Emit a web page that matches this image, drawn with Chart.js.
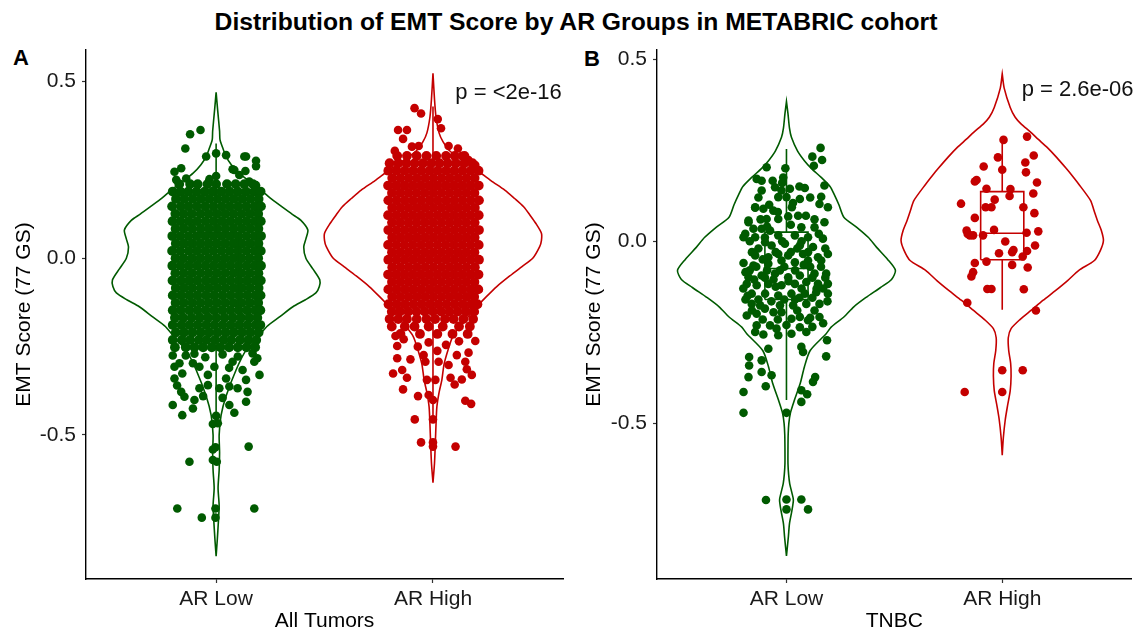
<!doctype html>
<html lang="en">
<head>
<meta charset="utf-8">
<title>Distribution of EMT Score by AR Groups in METABRIC cohort</title>
<script src="https://cdn.jsdelivr.net/npm/chart.js@4.4.1/dist/chart.umd.min.js"></script>
<style>
  body { margin: 0; background: #fff; font-family: "Liberation Sans", Arial, sans-serif; }
  #wrap { position: relative; width: 1136px; height: 632px; overflow: hidden; }
  #title { position: absolute; left: 8px; top: 8px; width: 1136px; text-align: center;
           font-weight: bold; font-size: 24.7px; line-height: 28px; color: #000; }
  .tag { position: absolute; font-weight: bold; font-size: 22px; line-height: 22px; color: #000; }
  canvas { position: absolute; top: 0; }
</style>
</head>
<body>
<div id="wrap">
  <div id="title">Distribution of EMT Score by AR Groups in METABRIC cohort</div>
  <div class="tag" style="left:13px;top:47px">A</div>
  <div class="tag" style="left:584px;top:48px">B</div>
  <canvas id="chartA" width="568" height="632" style="left:0"></canvas>
  <canvas id="chartB" width="568" height="632" style="left:568px"></canvas>
</div>

<script>
// categories and ticks
const groups = ["AR Low", "AR High"];
const yTicks = [-0.5, 0, 0.5];

// violin outlines: score levels (top -> bottom) and half widths (x units)
const vioA_low_y = [0.47,0.42,0.36,0.335,0.31,0.288,0.265,0.241,0.215,0.193,0.17,0.146,0.125,0.108,0.08,0.055,0.032,0.0,-0.03,-0.061,-0.08,-0.098,-0.118,-0.137,-0.165,-0.193,-0.23,-0.26,-0.316,-0.39,-0.444,-0.5,-0.55,-0.6,-0.65,-0.7,-0.74,-0.8,-0.843];
const vioA_low_w = [0,0.007,0.016,0.018,0.032,0.046,0.07,0.106,0.16,0.207,0.25,0.303,0.35,0.39,0.423,0.414,0.404,0.414,0.446,0.478,0.476,0.46,0.41,0.354,0.294,0.234,0.184,0.138,0.092,0.046,0.023,0.014,0.016,0.014,0.009,0.014,0.011,0.005,0];
const vioA_high_y = [0.524,0.45,0.40,0.355,0.33,0.306,0.28,0.25,0.22,0.193,0.17,0.146,0.12,0.1,0.071,0.05,0.033,0.0,-0.024,-0.05,-0.08,-0.11,-0.137,-0.183,-0.22,-0.26,-0.30,-0.344,-0.38,-0.42,-0.47,-0.52,-0.58,-0.635];
const vioA_high_w = [0,0.007,0.014,0.028,0.046,0.074,0.129,0.202,0.267,0.331,0.375,0.418,0.45,0.473,0.5,0.5,0.492,0.46,0.409,0.354,0.294,0.244,0.202,0.138,0.092,0.069,0.051,0.041,0.028,0.018,0.014,0.011,0.007,0];
const vioB_low_y = [0.383,0.35,0.31,0.285,0.248,0.221,0.2,0.175,0.15,0.13,0.1,0.066,0.038,0.01,-0.017,-0.05,-0.08,-0.105,-0.127,-0.155,-0.18,-0.208,-0.236,-0.254,-0.3,-0.345,-0.39,-0.436,-0.472,-0.5,-0.53,-0.57,-0.61,-0.64,-0.665,-0.69,-0.71,-0.74,-0.775,-0.81,-0.864];
const vioB_low_w = [0,0.007,0.014,0.023,0.051,0.083,0.115,0.161,0.202,0.22,0.243,0.266,0.326,0.38,0.418,0.469,0.505,0.487,0.436,0.367,0.312,0.266,0.207,0.184,0.11,0.083,0.064,0.037,0.018,0.011,0.008,0.007,0.007,0.01,0.015,0.025,0.032,0.025,0.014,0.009,0];
const vioB_high_y = [0.459,0.42,0.367,0.34,0.322,0.3,0.28,0.258,0.23,0.2,0.185,0.157,0.112,0.085,0.057,0.03,0.002,-0.025,-0.053,-0.08,-0.108,-0.135,-0.162,-0.19,-0.215,-0.24,-0.265,-0.3,-0.335,-0.37,-0.41,-0.45,-0.49,-0.54,-0.587];
const vioB_high_w = [0,0.009,0.037,0.06,0.087,0.13,0.166,0.207,0.252,0.296,0.317,0.354,0.409,0.425,0.441,0.459,0.469,0.455,0.427,0.355,0.303,0.248,0.19,0.133,0.082,0.041,0.028,0.03,0.039,0.041,0.037,0.025,0.014,0.005,0];

// box stats [low whisker, q1, median, q3, high whisker]
const boxA_low = [-0.47, -0.15, -0.045, 0.07, 0.325];
const boxA_high = [-0.45, -0.07, 0.04, 0.145, 0.43];
const boxB_low = [-0.436, -0.16, -0.075, 0.025, 0.253];
const boxB_high = [-0.188, -0.051, 0.022, 0.136, 0.278];

// jittered samples, dense part as rows: [score, [jitter offsets]]
const ptsA_low_rows = [
  [0.210, [-0.17,-0.12,-0.085,-0.04,0.0,0.05,0.09,0.13,0.17]],
  [0.189, [-0.2,-0.165,-0.128,-0.09,-0.052,-0.015,0.024,0.062,0.1,0.138,0.176,0.205]],
  [0.168, [-0.185,-0.147,-0.108,-0.07,-0.032,0.006,0.044,0.082,0.12,0.158,0.196]],
  [0.147, [-0.203,-0.163,-0.127,-0.089,-0.05,-0.012,0.026,0.063,0.101,0.139,0.177,0.207]],
  [0.126, [-0.188,-0.15,-0.112,-0.072,-0.034,0.004,0.042,0.08,0.118,0.156,0.194]],
  [0.105, [-0.201,-0.164,-0.126,-0.088,-0.049,-0.011,0.027,0.065,0.103,0.141,0.179,0.206]],
  [0.084, [-0.187,-0.149,-0.11,-0.071,-0.033,0.005,0.043,0.081,0.119,0.157,0.195]],
  [0.063, [-0.202,-0.165,-0.127,-0.089,-0.05,-0.012,0.026,0.064,0.102,0.14,0.178,0.207]],
  [0.042, [-0.186,-0.148,-0.11,-0.072,-0.034,0.004,0.042,0.08,0.118,0.157,0.195]],
  [0.021, [-0.203,-0.165,-0.126,-0.088,-0.05,-0.013,0.025,0.063,0.101,0.139,0.177,0.206]],
  [0.000, [-0.187,-0.15,-0.111,-0.073,-0.035,0.003,0.041,0.079,0.117,0.155,0.194]],
  [-0.021, [-0.202,-0.164,-0.126,-0.087,-0.049,-0.011,0.027,0.065,0.103,0.141,0.179,0.207]],
  [-0.042, [-0.188,-0.149,-0.111,-0.072,-0.034,0.004,0.042,0.08,0.118,0.156,0.195]],
  [-0.063, [-0.201,-0.163,-0.125,-0.087,-0.048,-0.01,0.028,0.066,0.104,0.142,0.18,0.206]],
  [-0.084, [-0.186,-0.148,-0.11,-0.071,-0.033,0.005,0.043,0.081,0.119,0.157,0.196]],
  [-0.105, [-0.2,-0.162,-0.124,-0.086,-0.047,-0.009,0.029,0.067,0.105,0.143,0.181,0.205]],
  [-0.126, [-0.187,-0.149,-0.11,-0.072,-0.034,0.004,0.042,0.08,0.118,0.156,0.194]],
  [-0.147, [-0.2,-0.163,-0.124,-0.086,-0.048,-0.01,0.028,0.066,0.104,0.142,0.18,0.204]],
  [-0.168, [-0.19,-0.152,-0.113,-0.075,-0.037,0.001,0.039,0.077,0.115,0.153,0.19]],
  [-0.189, [-0.2,-0.16,-0.123,-0.085,-0.046,-0.008,0.03,0.068,0.106,0.144,0.182,0.204]],
  [-0.210, [-0.186,-0.148,-0.109,-0.07,-0.032,0.006,0.044,0.082,0.12,0.158,0.196]],
  [-0.231, [-0.2,-0.158,-0.12,-0.08,-0.044,-0.005,0.034,0.07,0.11,0.148,0.185]],
  [-0.252, [-0.19,-0.14,-0.1,-0.06,-0.02,0.02,0.06,0.1,0.14,0.18]]
];
const ptsA_low_extra = [
  [-0.12,0.351],[-0.072,0.363],[-0.142,0.311],[0.138,0.288],[0.184,0.276],[0.184,0.261],[0,0.297],[0.046,0.292],
  [-0.046,0.288],[-0.192,0.245],[-0.161,0.255],[0.076,0.252],[0.107,0.236],[0,0.233],[-0.031,0.224],[-0.184,0.222],
  [0.153,0.217],[0.184,0.207],[-0.138,0.226],[0.13,0.288],[0.084,0.25],[0.135,0.247],
  [-0.14,-0.275],[-0.05,-0.28],[0.03,-0.272],[0.1,-0.278],[0.19,-0.283],[-0.1,-0.27],[0.06,-0.31],[-0.18,-0.36],
  [0.2,-0.33],[0.03,-0.395],[-0.06,-0.39],
  [-0.2,-0.275],[-0.169,-0.297],[-0.192,-0.307],[-0.156,-0.326],[-0.192,-0.34],[-0.107,-0.297],[-0.077,-0.307],
  [-0.038,-0.33],[-0.008,-0.307],[0.076,-0.293],[0.122,-0.316],[0.176,-0.293],[0.168,-0.269],[0.138,-0.344],
  [0.046,-0.34],[-0.161,-0.378],[-0.146,-0.392],[-0.077,-0.368],[-0.038,-0.359],[0.015,-0.368],[0.061,-0.363],
  [0.099,-0.368],[0.145,-0.378],[0.138,-0.406],[-0.1,-0.401],[-0.2,-0.415],[-0.107,-0.425],[0.061,-0.415],
  [0.084,-0.437],[-0.156,-0.444],[0,-0.446],[0.008,-0.467],[-0.015,-0.469],[0.15,-0.533],[-0.015,-0.541],
  [-0.003,-0.535],[-0.123,-0.576],[-0.015,-0.571],[0.003,-0.576],[-0.179,-0.708],[0.176,-0.708],[-0.003,-0.708],
  [-0.066,-0.734],[-0.003,-0.734]
];
const ptsA_high_rows = [
  [0.290, [-0.165,-0.12,-0.075,-0.03,0.015,0.06,0.1,0.145]],
  [0.269, [-0.2,-0.16,-0.122,-0.084,-0.046,-0.008,0.03,0.068,0.106,0.144,0.182]],
  [0.248, [-0.206,-0.168,-0.13,-0.092,-0.054,-0.016,0.022,0.06,0.098,0.136,0.174,0.21]],
  [0.227, [-0.188,-0.15,-0.112,-0.074,-0.036,0.002,0.04,0.078,0.116,0.154,0.192]],
  [0.206, [-0.207,-0.169,-0.131,-0.093,-0.055,-0.017,0.021,0.059,0.097,0.135,0.173,0.211]],
  [0.185, [-0.189,-0.151,-0.113,-0.075,-0.037,0.001,0.039,0.077,0.115,0.153,0.191]],
  [0.164, [-0.206,-0.168,-0.13,-0.092,-0.054,-0.016,0.022,0.06,0.098,0.136,0.174,0.212]],
  [0.143, [-0.188,-0.15,-0.112,-0.074,-0.036,0.002,0.04,0.078,0.116,0.154,0.193]],
  [0.122, [-0.207,-0.169,-0.131,-0.093,-0.055,-0.017,0.021,0.059,0.097,0.135,0.173,0.211]],
  [0.101, [-0.189,-0.151,-0.113,-0.075,-0.037,0.001,0.039,0.077,0.115,0.153,0.192]],
  [0.080, [-0.206,-0.168,-0.13,-0.092,-0.054,-0.016,0.022,0.06,0.098,0.136,0.174,0.212]],
  [0.059, [-0.188,-0.15,-0.112,-0.074,-0.036,0.002,0.04,0.078,0.116,0.154,0.192]],
  [0.038, [-0.207,-0.169,-0.131,-0.093,-0.055,-0.017,0.021,0.059,0.097,0.135,0.173,0.211]],
  [0.017, [-0.189,-0.151,-0.113,-0.075,-0.037,0.001,0.039,0.077,0.115,0.153,0.191]],
  [-0.004, [-0.206,-0.168,-0.13,-0.092,-0.054,-0.016,0.022,0.06,0.098,0.136,0.174,0.212]],
  [-0.025, [-0.188,-0.15,-0.112,-0.074,-0.036,0.002,0.04,0.078,0.116,0.154,0.193]],
  [-0.046, [-0.207,-0.169,-0.131,-0.093,-0.055,-0.017,0.021,0.059,0.097,0.135,0.173,0.21]],
  [-0.067, [-0.189,-0.151,-0.113,-0.075,-0.037,0.001,0.039,0.077,0.115,0.153,0.191]],
  [-0.088, [-0.206,-0.168,-0.13,-0.092,-0.054,-0.016,0.022,0.06,0.098,0.136,0.174,0.209]],
  [-0.109, [-0.188,-0.15,-0.112,-0.074,-0.036,0.002,0.04,0.078,0.116,0.154,0.19]],
  [-0.130, [-0.205,-0.167,-0.129,-0.09,-0.052,-0.014,0.024,0.062,0.1,0.138,0.176,0.205]],
  [-0.151, [-0.19,-0.152,-0.114,-0.076,-0.038,0.0,0.038,0.076,0.114,0.152,0.19]],
  [-0.172, [-0.2,-0.16,-0.12,-0.075,-0.03,0.01,0.055,0.095,0.14,0.185]],
  [-0.193, [-0.19,-0.13,-0.085,-0.02,0.045,0.12,0.17]],
  [-0.214, [-0.15,-0.06,0.02,0.09,0.16]]
];
const ptsA_high_extra = [
  [-0.085,0.425],[-0.055,0.41],[0.022,0.394],[0.037,0.368],[-0.161,0.363],[-0.12,0.363],[-0.138,0.338],[0.072,0.318],
  [0.115,0.311],[-0.176,0.304],[-0.097,0.316],[-0.066,0.318],[0.133,0.29],[0.164,0.278],[0.195,0.264],
  [-0.173,-0.22],[-0.135,-0.229],[0.195,-0.234],[-0.165,-0.248],[0.164,-0.267],[-0.165,-0.283],[-0.104,-0.286],
  [-0.043,-0.274],[-0.035,-0.293],[0.026,-0.293],[0.072,-0.302],[0.11,-0.274],[0.149,-0.293],[0.156,-0.314],
  [-0.184,-0.326],[-0.142,-0.316],[-0.12,-0.338],[-0.028,-0.344],[0.011,-0.344],[0.081,-0.338],[0.133,-0.343],
  [0.179,-0.33],[0.1,-0.357],[-0.138,-0.371],[-0.069,-0.39],[-0.02,-0.387],[0,-0.401],[0.149,-0.403],[0.176,-0.412],
  [-0.084,-0.456],[0,-0.456],[-0.055,-0.521],[0,-0.521],[0,-0.533],[0.104,-0.533],
  [0.06,-0.245],[-0.07,-0.25],[0.12,-0.235],[0.02,-0.262],[-0.02,-0.238]
];
const ptsB_low = [
  [0.158,0.256],[0.12,0.232],[0.165,0.223],[0.127,0.207],[-0.092,0.203],[-0.005,0.2],[-0.138,0.171],[-0.115,0.166],
  [-0.064,0.166],[-0.015,0.175],[0.176,0.153],[-0.115,0.139],[-0.053,0.148],[-0.023,0.139],[0.016,0.144],[0.085,0.146],
  [-0.038,0.121],[0,0.121],[0.062,0.116],[0.161,0.122],[-0.145,0.092],[-0.107,0.089],[-0.061,0.084],[0.025,0.093],
  [0.153,0.102],[0.192,0.093],[0.054,0.07],[0.008,0.068],[-0.176,0.057],[-0.092,0.061],[-0.038,0.061],[0.176,0.052],
  [-0.153,0.034],[-0.115,0.034],[-0.076,0.029],[0.069,0.038],[0.13,0.038],[-0.191,0.02],[-0.038,0.016],[0.039,0.016],
  [0.1,0.011],[-0.145,0.011],[0.169,0.007],[-0.099,-0.003],[-0.069,-0.012],[-0.007,-0.007],[0.062,-0.012],[0.123,-0.016],
  [-0.145,-0.039],[-0.038,-0.035],[0.008,-0.039],[0.077,-0.035],[0.192,-0.035],[-0.084,-0.044],[0.146,-0.044],
  [-0.199,-0.06],[-0.153,-0.067],[-0.084,-0.062],[-0.023,-0.053],[0.039,-0.058],[0.1,-0.053],[0.161,-0.053],
  [-0.176,-0.099],[-0.115,-0.094],[-0.053,-0.089],[0.008,-0.099],[0.062,-0.094],[0.13,-0.089],[0.184,-0.089],
  [-0.184,-0.117],[-0.138,-0.121],[-0.084,-0.117],[-0.023,-0.121],[0.039,-0.117],[0.092,-0.112],[0.146,-0.117],[0.192,-0.117],
  [-0.161,-0.144],[-0.099,-0.144],[-0.038,-0.149],[0.023,-0.144],[0.085,-0.144],[0.138,-0.14],[0.192,-0.144],
  [-0.161,-0.172],[-0.122,-0.176],[-0.03,-0.176],[0.031,-0.176],[0.092,-0.172],[0.153,-0.172],
  [-0.184,-0.204],[-0.138,-0.199],[-0.023,-0.195],[0.023,-0.213],[0.062,-0.208],[0.1,-0.217],[0.153,-0.208],
  [-0.138,-0.231],[-0.076,-0.231],[-0.046,-0.24],[0.062,-0.236],[-0.145,-0.249],[-0.107,-0.256],[-0.038,-0.258],
  [0.023,-0.254],[0.092,-0.249],[0.188,-0.272],[-0.084,-0.295],[0.069,-0.29],[0.077,-0.304],[-0.173,-0.318],
  [-0.115,-0.327],[0.184,-0.316],[-0.173,-0.341],[-0.115,-0.359],[-0.069,-0.368],[0.133,-0.373],[-0.176,-0.373],
  [0.123,-0.386],[-0.096,-0.398],[0.069,-0.409],[0.096,-0.42],[-0.199,-0.414],[0.069,-0.441],[-0.199,-0.471],[0,-0.471],
  [-0.095,-0.71],[0,-0.709],[0,-0.736],[0.069,-0.709],[0.1,-0.736],
  [-0.199,0.011],[-0.176,0.052],[-0.145,0.093],
  [-0.13,-0.02],[-0.17,-0.08],[-0.06,-0.105],[0.11,-0.07],[0.04,-0.16],[-0.1,-0.185],[0.13,-0.19],[-0.01,-0.07],
  [0.05,-0.02],[-0.12,0.06],[0.09,0.07],[0.14,-0.13],[-0.04,-0.215],[0.18,-0.02],[0.02,0.045],[-0.18,-0.15],
  [-0.17,0.0],[-0.1,0.01],[-0.02,0.0],[0.07,0.0],[0.15,0.02],[-0.16,-0.03],[-0.11,-0.05],[-0.05,-0.03],[0.02,-0.03],
  [0.1,-0.03],[-0.19,-0.085],[-0.14,-0.07],[-0.09,-0.08],[-0.03,-0.08],[0.04,-0.08],[0.08,-0.065],[0.16,-0.07],
  [-0.15,-0.105],[-0.1,-0.1],[-0.05,-0.125],[0.01,-0.11],[0.07,-0.13],[0.12,-0.1],[0.17,-0.13],
  [-0.19,-0.16],[-0.13,-0.16],[-0.07,-0.165],[-0.01,-0.16],[0.06,-0.155],[0.12,-0.155],[0.19,-0.165],
  [-0.16,-0.19],[-0.06,-0.195],[0.05,-0.19],[0.17,-0.225],[-0.11,-0.215],[0.0,-0.23],[0.12,-0.235],
  [-0.08,0.1],[0.03,0.105],[0.11,0.12],[-0.13,0.12],[0.06,0.15],[-0.02,0.16],[-0.09,0.04],[0.13,0.06],
  [-0.04,0.08],[0.18,-0.1],[-0.2,-0.13],[0.11,-0.21]
];
const ptsB_high = [
  [0.006,0.278],[0.115,0.287],[-0.02,0.23],[0.146,0.235],[-0.086,0.205],[0.107,0.216],[0,0.196],[0.11,0.189],
  [-0.119,0.168],[-0.127,0.164],[0.161,0.161],[-0.073,0.144],[0.038,0.143],[0.034,0.124],[0.144,0.131],[-0.035,0.114],
  [-0.191,0.103],[-0.077,0.093],[-0.05,0.093],[0.098,0.093],[0.149,0.077],[-0.127,0.064],[-0.165,0.029],[-0.15,0.016],
  [-0.135,0.016],[-0.16,0.02],[-0.089,0.016],[-0.038,0.031],[0.113,0.023],[0.167,0.027],[0.014,-0.001],[0.152,-0.012],
  [-0.015,-0.033],[0.046,-0.03],[0.052,-0.024],[0.095,-0.042],[0.115,-0.027],[-0.073,-0.056],[-0.127,-0.06],
  [0.046,-0.065],[0.118,-0.072],[-0.135,-0.085],[-0.143,-0.097],[-0.069,-0.131],[-0.05,-0.131],[0.1,-0.132],
  [-0.162,-0.169],[0.156,-0.19],[0,-0.354],[0.095,-0.354],[-0.174,-0.414],[0,-0.414]
];

const GREEN = "#005a00";
const RED = "#c40000";

Chart.defaults.font.family = '"Liberation Sans", Arial, sans-serif';

function violin(ys, ws, c) {
  const right = ys.map((y, i) => ({x: c + ws[i], y: y})).reverse();
  const left = ys.map((y, i) => ({x: c - ws[i], y: y}));
  return right.concat(left);
}

function boxLines(b, c) {
  const hw = 0.1;
  return [
    [{x: c - hw, y: b[1]}, {x: c + hw, y: b[1]}, {x: c + hw, y: b[3]}, {x: c - hw, y: b[3]}, {x: c - hw, y: b[1]}],
    [{x: c - hw, y: b[2]}, {x: c + hw, y: b[2]}],
    [{x: c, y: b[3]}, {x: c, y: b[4]}],
    [{x: c, y: b[1]}, {x: c, y: b[0]}]
  ];
}

function rowPoints(rows, c) {
  const pts = [];
  rows.forEach(r => r[1].forEach(dx => pts.push({x: c + dx, y: r[0]})));
  return pts;
}

function pairPoints(pairs, c) {
  return pairs.map(p => ({x: c + p[0], y: p[1]}));
}

function lineSet(data, color, order) {
  return {type: "scatter", data: data, showLine: true, pointRadius: 0, pointHoverRadius: 0,
          borderColor: color, borderWidth: 1.6, fill: false, tension: 0.25, order: order};
}

function pointSet(data, color, r) {
  return {type: "scatter", data: data, pointRadius: r, pointHoverRadius: r, pointBorderWidth: 0,
          backgroundColor: color, borderColor: color, order: 2};
}

const pvalPlugin = {
  id: "pval",
  afterDatasetsDraw(chart, args, opts) {
    const {ctx, scales} = chart;
    ctx.save();
    ctx.font = '22px "Liberation Sans", Arial, sans-serif';
    ctx.fillStyle = "#111";
    ctx.textAlign = "left";
    ctx.textBaseline = "middle";
    ctx.fillText(opts.text, scales.x.getPixelForValue(opts.x), scales.y.getPixelForValue(opts.y));
    ctx.restore();
  }
};

function panel(id, p) {
  const datasets = [];
  datasets.push(lineSet(violin(p.vLow[0], p.vLow[1], 1), GREEN, 3));
  datasets.push(lineSet(violin(p.vHigh[0], p.vHigh[1], 2), RED, 3));
  // dense cores are drawn a little fuller so the blob closes up like the original
  datasets.push(pointSet(rowPoints(p.rowsLow, 1), GREEN, 4.9));
  datasets.push(pointSet(rowPoints(p.rowsHigh, 2), RED, 4.9));
  datasets.push(pointSet(pairPoints(p.pLow, 1), GREEN, 4.3));
  datasets.push(pointSet(pairPoints(p.pHigh, 2), RED, 4.3));
  boxLines(p.bLow, 1).forEach(d => datasets.push(Object.assign(lineSet(d, GREEN, 1), {tension: 0})));
  boxLines(p.bHigh, 2).forEach(d => datasets.push(Object.assign(lineSet(d, RED, 1), {tension: 0})));

  return new Chart(document.getElementById(id), {
    data: {datasets: datasets},
    plugins: [pvalPlugin],
    options: {
      responsive: false,
      animation: false,
      events: [],
      layout: {padding: {top: 50, right: p.right, left: 0, bottom: 0}},
      plugins: {
        legend: {display: false},
        tooltip: {enabled: false},
        pval: {text: p.pText, x: p.pX, y: p.pY}
      },
      scales: {
        x: {
          type: "linear", min: 0.4, max: 2.6,
          afterBuildTicks: s => { s.ticks = [{value: 1}, {value: 2}]; },
          afterFit: s => { s.height = 53; },
          ticks: {callback: (v, i) => groups[i], autoSkip: false, maxRotation: 0, padding: 4,
                  color: "#1a1a1a", font: {size: 21}},
          grid: {display: true, drawOnChartArea: false, drawTicks: true, tickLength: 4,
                 tickColor: "#333", tickWidth: 1.2},
          border: {display: true, color: "#000", width: 1.4},
          title: {display: true, text: p.xTitle, color: "#000", font: {size: 21, lineHeight: 1},
                  padding: {top: 0, bottom: 0}}
        },
        y: {
          type: "linear", min: p.yMin, max: p.yMax,
          afterBuildTicks: s => { s.ticks = yTicks.map(v => ({value: v})); },
          afterFit: s => { s.width = p.yWidth; },
          ticks: {callback: v => v.toFixed(1), padding: 6, color: "#1a1a1a", font: {size: 21}},
          grid: {display: true, drawOnChartArea: false, drawTicks: true, tickLength: 4,
                 tickColor: "#333", tickWidth: 1.2},
          border: {display: true, color: "#000", width: 1.4},
          title: {display: true, text: "EMT Score (77 GS)", color: "#000", font: {size: 21, lineHeight: 1},
                  padding: {top: p.yTitlePad, bottom: 0}}
        }
      }
    }
  });
}

panel("chartA", {
  vLow: [vioA_low_y, vioA_low_w], vHigh: [vioA_high_y, vioA_high_w],
  rowsLow: ptsA_low_rows, rowsHigh: ptsA_high_rows,
  pLow: ptsA_low_extra, pHigh: ptsA_high_extra,
  bLow: boxA_low, bHigh: boxA_high,
  yMin: -0.9077, yMax: 0.5896, yWidth: 86, right: 3, yTitlePad: 13.5,
  xTitle: "All Tumors", pText: "p = <2e-16", pX: 2.103, pY: 0.469
});

panel("chartB", {
  vLow: [vioB_low_y, vioB_low_w], vHigh: [vioB_high_y, vioB_high_w],
  rowsLow: [], rowsHigh: [],
  pLow: ptsB_low, pHigh: ptsB_high,
  bLow: boxB_low, bHigh: boxB_high,
  yMin: -0.927, yMax: 0.5247, yWidth: 89, right: 0, yTitlePad: 16,
  xTitle: "TNBC", pText: "p = 2.6e-06", pX: 2.09, pY: 0.415
});
</script>
</body>
</html>
